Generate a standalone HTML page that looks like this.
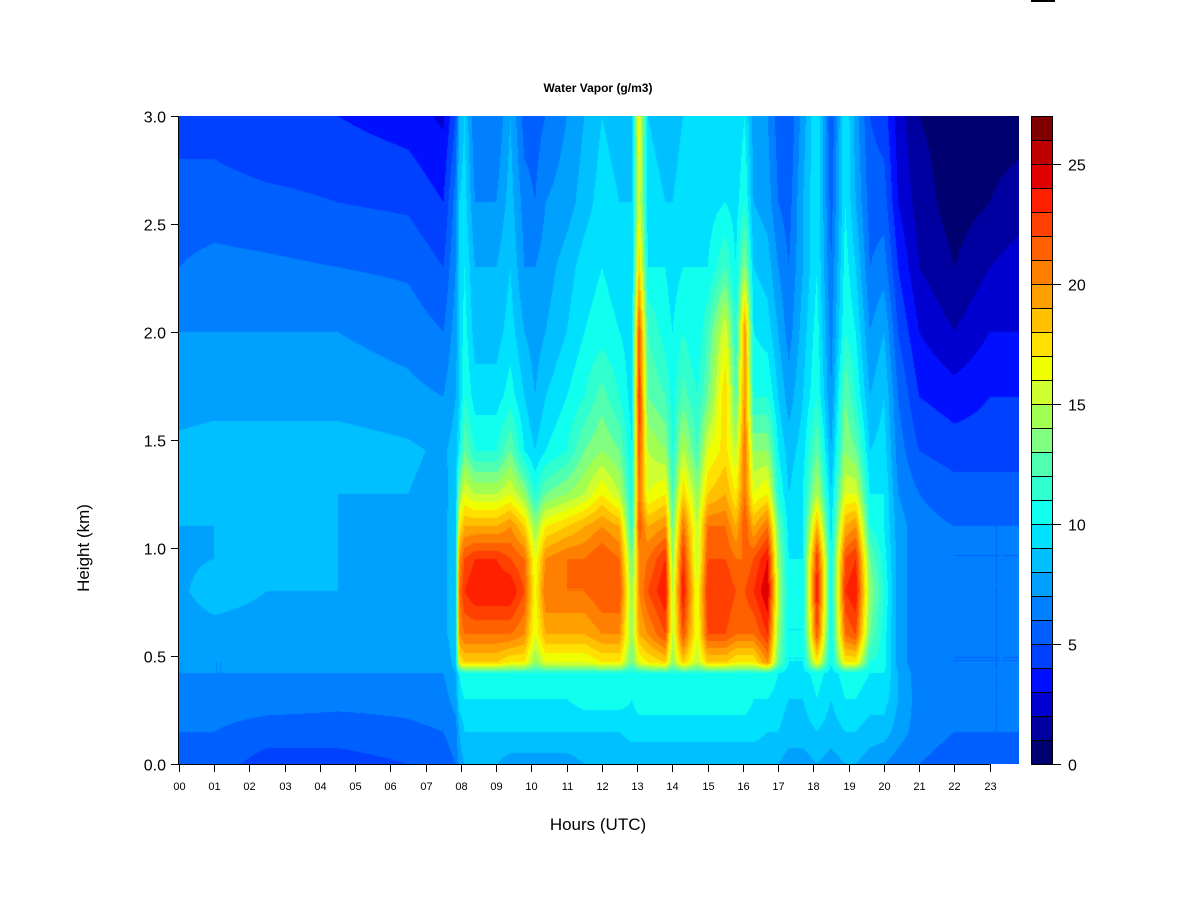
<!DOCTYPE html>
<html><head><meta charset="utf-8"><style>
html,body{margin:0;padding:0;background:#fff;width:1200px;height:900px;overflow:hidden}
#wrap{position:relative;width:1200px;height:900px;font-family:"Liberation Sans",Arial,sans-serif}
#hm{position:absolute;left:179px;top:116px;width:840px;height:648px}
#ov{position:absolute;left:0;top:0}
</style></head><body>
<div id="wrap">
<div style="position:absolute;left:1031px;top:0;width:24px;height:2px;background:#000"></div>
<canvas id="hm" width="840" height="648"></canvas>
<svg id="ov" width="1200" height="900">
<text x="598" y="92" text-anchor="middle" font-size="12" font-weight="bold">Water Vapor (g/m3)</text>
<text x="598" y="830" text-anchor="middle" font-size="17">Hours (UTC)</text>
<text transform="translate(89,548) rotate(-90)" text-anchor="middle" font-size="17">Height (km)</text>
<g id="xt"></g><g id="yt"></g><g id="cb"></g>
</svg>
</div>
<script>
const heights=[0.0,0.15,0.3,0.42,0.47,0.6,0.8,0.95,1.1,1.25,1.45,1.7,2.0,2.3,2.6,3.0];
const times=[0.0,1.0,2.5,4.5,6.5,7.5,7.85,7.95,8.1,8.4,9.0,9.4,9.8,10.1,10.4,11.0,11.5,12.0,12.5,12.85,13.05,13.3,13.8,14.0,14.3,14.7,15.0,15.5,15.8,16.05,16.3,16.7,17.0,17.3,17.7,18.1,18.5,18.9,19.2,19.6,20.0,20.4,21.0,22.0,23.0,23.83];
const profiles=[
[6,6,6.5,7,7,7.5,7.8,7.8,8,8,8.3,7.5,7,6,5.5,4.5],
[5.5,6,6.5,7,7,7.6,8.5,8,8,8,8.5,7.6,7,6.3,5.5,4.5],
[4.5,5.5,6.5,7,7,7.5,8,8,8,8,8.5,7.6,7,6.2,5.3,4],
[4.5,5.5,6.3,7,7,7.5,8,8,8,8,8.5,7.6,7,6,5,4],
[5,5.8,6.3,7,7,7.5,7.8,7.8,7.8,8,8.2,7.3,6.6,5.8,4.8,3.5],
[5.5,6,6.5,7,7,7.5,7.6,7.6,7.6,7.6,7.8,7,6,5,4,2.8],
[6,6.5,7.5,8,8.5,9,9,9,9,8.6,8.5,8,7.5,7,6.5,5],
[7.5,8,9.5,10,17,20,21,20,17,14,10,9,9,9,9,8],
[8,9,10,11,18,21,23,22,19,16,13,11,10.5,10,9.5,9],
[8,9,10,11,18,21,24,23,19,15,11,9.5,8.5,8,7,6],
[8,9,10,11,18,21,24,23,19,15,11,9.5,8.5,8,7,6],
[7.5,9,10,11,17,21,24,22,20,16,13,10.5,9.5,9,8.5,8],
[7.5,9,10,11,17,20,22,21,18,14,10,9,8,7,6.5,5.5],
[7.5,9,10,11,14,16,16.5,16,14,11,9,8,7.5,7,6,5.5],
[7.5,9,10,11,16,19,21,20,17,13,10,9,8,7.5,7,6],
[7.5,9,10,11,16,19,21,21,18,14,11,10,9,8.5,7.5,7],
[8,9,10.5,11,16,19,21,21,19,15,13,11,10,9.5,8.5,8],
[8,9,10.5,11,17,20,22,22,20,17,14,12.5,10.5,10,9.5,9],
[8,9,10.5,11,17,20,22,21,19,15,13,11,10,9.5,9,8.5],
[8,9.5,10,10.5,13,14,14,13,11,10.5,10,9.5,9.5,9,9,9],
[8,9.5,10.5,11,16,19,20,20,22,21,22,23,22,18,16,17],
[8,9.5,10.5,11,17,20,22,21,19,16,15,13,12,10,9.5,9],
[8,9.5,10.5,11,18,22,24,23,20,17,14,12,10.5,10,9,8.5],
[8,9.5,10.5,11,14,15,15,14,13,12,11,10.5,10,9.5,9,8.5],
[8,9.5,10.5,11,18,22,24,23,21,18,15,12.5,11,10,9.5,9],
[8,9.5,10.5,11,15,16,16,15,15,14,12,11,10,10,9.5,9],
[8,9.5,10.5,11,18,22,23,22,21,18,16,13,12,10,9.5,9],
[8,9.5,10.5,11,18,22,23,22,21,19,17.5,18,16,12,10,10],
[8,9.5,10.5,11,17,21,22,21,19,17,15,12.5,11,10,9.5,9],
[8,9.5,10.5,11,17,21,22,21,22,21,21,20,20,14,11,10],
[8,9.5,10,11,17,21,23,22,19,16,14,11,10,9,8,7.5],
[8,9,10,11,20,23,25,24,21,17,14,11,9.5,8.5,7.5,7],
[8,9,9.5,10,13,14,15,14,13,11,10,9,8,7,6,5.5],
[7.5,8.5,9,9.5,10,10,10,10,9.5,9,8.5,7.5,6.5,6,5.5,5],
[7.5,8.5,9,9.5,10,10,10,10,10,10,9.5,9,8.5,8,8,7.5],
[8,9,10,10.5,17,22,24,23,19,15,13,11,10.5,10,10,10],
[7.5,8.5,9,9.5,10,10,10,10,9.5,9,8,7,6.5,6,5.5,5],
[8,9,10,10.5,17,21,23,22,19,16,14,13,11,10.5,10,10],
[8,9,10,10.5,17,22,24,23,20,16,13,11,10,9,8,7.5],
[7.5,8.5,9.5,10,11,13,14,13,11,10,9,8,7,6,5.5,5],
[7,8.5,9.5,10,10.5,10.5,11,10.5,10,10,9.5,9,8,6.5,5.5,4.5],
[6.5,7.5,8,8,7.5,7.5,7.5,7.5,7.5,7,6.5,6,5,4,3,2.5],
[6,6.5,6.5,6.3,6.3,6.3,6.3,6.3,6.3,6,5,4,3,2,1.5,1],
[5.5,6,6,6,6,6,6,6,6,5.5,4.5,3.5,2,1,0.5,0.5],
[5.5,6,6,6,6,6,6,6,6,5.5,4.5,4,3,2,1,0.5],
[5.5,6,6,6,6,6,6,6,6,5.5,4.5,4,3,2.5,1.5,0.5]
];
const levelColors=["#000070","#0000a0","#0000d0","#0010ff","#0040ff","#0060ff","#0080ff","#00a0ff","#00c0ff","#00e0ff","#10ffee","#30ffd0","#50ffb0","#80ff80","#a0ff50","#d0ff30","#f0ff00","#ffe000","#ffc000","#ffa000","#ff8000","#ff6000","#ff4000","#ff2000","#e00000","#c00000","#800000"];
const xTickLabels=["00","01","02","03","04","05","06","07","08","09","10","11","12","13","14","15","16","17","18","19","20","21","22","23"];
const yTickValues=[0,0.5,1,1.5,2,2.5,3];
const cbTickValues=[0,5,10,15,20,25];

const X0=179,X1=1019,Y0=764,Y1=116,TMAX=23.83,HMAX=3;
const xs=h=>X0+h/TMAX*(X1-X0);
const ys=k=>Y0-k/HMAX*(Y0-Y1);
const cbY=v=>764-v*24;
const NS="http://www.w3.org/2000/svg";
function mk(tag,attrs,parent){const e=document.createElementNS(NS,tag);for(const k in attrs)e.setAttribute(k,attrs[k]);parent.appendChild(e);return e;}
function hex(c){return [parseInt(c.slice(1,3),16),parseInt(c.slice(3,5),16),parseInt(c.slice(5,7),16)];}
const rgb=levelColors.map(hex);
function bracket(arr,v){let i=0;while(i<arr.length-2&&arr[i+1]<v)i++;let t=(v-arr[i])/(arr[i+1]-arr[i]);return [i,Math.max(0,Math.min(1,t))];}
const cv=document.getElementById('hm'),ctx=cv.getContext('2d');
const W=cv.width,H=cv.height,img=ctx.createImageData(W,H);
const colB=[];for(let px=0;px<W;px++)colB.push(bracket(times,(px+0.5)/W*TMAX));
for(let py=0;py<H;py++){
  const [j,u]=bracket(heights,HMAX-(py+0.5)/H*HMAX);
  for(let px=0;px<W;px++){
    const [i,t]=colB[px];
    const a=profiles[i][j]*(1-u)+profiles[i][j+1]*u;
    const b=profiles[i+1][j]*(1-u)+profiles[i+1][j+1]*u;
    const v=a*(1-t)+b*t;
    const bin=Math.max(0,Math.min(26,Math.floor(v)));
    const c=rgb[bin],o=(py*W+px)*4;
    img.data[o]=c[0];img.data[o+1]=c[1];img.data[o+2]=c[2];img.data[o+3]=255;
  }
}
ctx.putImageData(img,0,0);
const xt=document.getElementById('xt');
const xl=mk('line',{x1:xs(0),y1:764.5,x2:xs(23),y2:764.5,stroke:'#000','stroke-width':1},xt);


xTickLabels.forEach((lab,i)=>{
  const x=Math.round(xs(i))+0.5;
  const tk=mk('line',{x1:x,y1:764,x2:x,y2:772,stroke:'#000'},xt);
  
  
  const tx=mk('text',{x:x,y:790,'text-anchor':'middle','font-size':11},xt);
  tx.textContent=lab;
  
  
});
const yt=document.getElementById('yt');
const yl=mk('line',{x1:178.5,y1:ys(0),x2:178.5,y2:ys(3),stroke:'#000'},yt);


yTickValues.forEach(v=>{
  const y=Math.round(ys(v))+0.5;
  const tk=mk('line',{x1:171,y1:y,x2:179,y2:y,stroke:'#000'},yt);
  
  
  const tx=mk('text',{x:166,y:y+6,'text-anchor':'end','font-size':16},yt);
  tx.textContent=v.toFixed(1);
  
  
});
const cb=document.getElementById('cb');
levelColors.forEach((c,i)=>{
  const r=mk('rect',{x:1031.5,y:cbY(i+1)+0.5,width:21,height:24,fill:c,stroke:'#000','stroke-width':1},cb);
  
  
});
cbTickValues.forEach(v=>{
  const y=cbY(v)+0.5;
  const tk=mk('line',{x1:1052,y1:y,x2:1061,y2:y,stroke:'#000'},cb);
  
  
  const tx=mk('text',{x:1068,y:y+6,'font-size':16},cb);
  tx.textContent=String(v);
  
  
});
</script>
</body></html>
